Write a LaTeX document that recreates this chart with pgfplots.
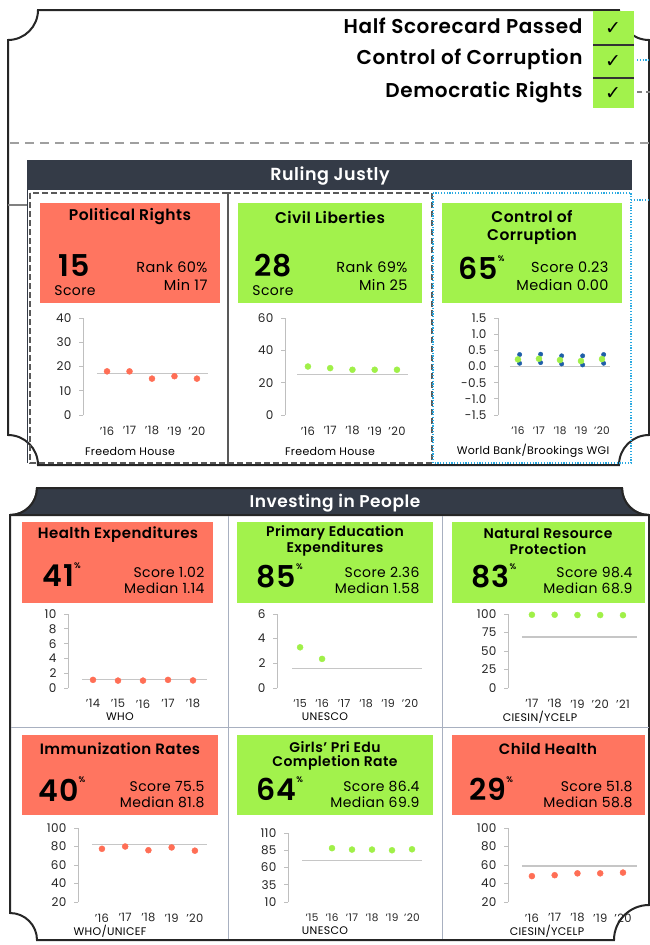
\documentclass[border=0pt]{standalone}
\usepackage{pgfplots}
\pgfplotsset{compat=1.18}
\usepackage{fontspec}
\setmainfont{Poppins}[BoldFont={Poppins SemiBold}, LetterSpace=3]
\newfontfamily\sym{DejaVu Sans}
\definecolor{redbox}{HTML}{FF7560}
\definecolor{greenbox}{HTML}{A2F24C}
\definecolor{reddot}{HTML}{FF6E55}
\definecolor{greendot}{HTML}{A0F048}
\definecolor{bluedot}{HTML}{1F5FA8}
\definecolor{navy}{HTML}{343B47}
\definecolor{cyanline}{HTML}{29A9E1}
\definecolor{sepline}{HTML}{A8B0C0}
\newcommand{\fs}[1]{\fontsize{#1}{#1}\selectfont}
\newcommand{\pct}[1]{#1\raisebox{1.1ex}{\fs{8}\%}}

\pgfplotsset{
  mini/.style={
    scale only axis, clip=false, anchor=south west,
    axis y line*=left, axis x line*=bottom,
    x axis line style={draw=none}, xtick style={draw=none},
    y axis line style={draw=gray!50, line width=0.9pt},
    ytick style={draw=gray!50, line width=0.9pt},
    tick align=outside, major tick length=4pt,
    /pgf/number format/assume math mode=true,
    yticklabel style={font=\fs{12}, text=black!85, xshift=-4pt},
    xticklabel style={font=\fs{11.5}, text=black!85, yshift=-4pt},
  },
  med/.style={gray!45, line width=1.3pt, forget plot},
  rdot/.style={only marks, mark=*, mark size=3pt, color=reddot},
  gdot/.style={only marks, mark=*, mark size=3pt, color=greendot},
  bdot/.style={only marks, mark=*, mark size=2.2pt, color=bluedot},
}

\begin{document}
\begin{tikzpicture}
\begin{scope}[x=1pt,y=-1pt]
\useasboundingbox (0,0) rectangle (650,945);
% ---- top card
\draw[line width=2pt, black!85, fill=white] (8,40) arc[start angle=90,end angle=0,radius=30]
  -- (619,10) arc[start angle=180,end angle=90,radius=30]
  -- (649,435) arc[start angle=270,end angle=180,radius=30]
  -- (38,465) arc[start angle=0,end angle=-90,radius=30] -- cycle;
\fill[greenbox] (593,11) rectangle (634,108);
\draw[line width=1.8pt, black!80] (593,45) -- (634,45) (593,78) -- (634,78);
\node[font=\sym\bfseries\fs{19}] at (613,29) {✓};
\node[font=\sym\bfseries\fs{19}] at (613,62) {✓};
\node[font=\sym\bfseries\fs{19}] at (613,94) {✓};
\node[anchor=east, font=\bfseries\fs{20}] at (586,26) {Half Scorecard Passed};
\node[anchor=east, font=\bfseries\fs{20}] at (586,59) {Control of Corruption};
\node[anchor=east, font=\bfseries\fs{20}] at (586,92) {Democratic Rights};
\draw[cyanline, line width=1.6pt, dash pattern=on 1.2pt off 1.6pt] (637,60) -- (650,60);
\draw[gray, line width=1.6pt, dash pattern=on 5pt off 4pt] (637,92) -- (650,92);
\draw[gray!75, line width=1.6pt, dash pattern=on 9pt off 6pt] (10,143) -- (650,143);
% ---- Ruling Justly
\fill[navy] (27,160) rectangle (632,190);
\node[white, font=\bfseries\fs{17.5}] at (330,176) {Ruling Justly};
\draw[navy, line width=1pt] (27,190) -- (27,463);
\draw[gray, line width=1.6pt] (8,205) -- (27,205);
\draw[black!65, line width=1.6pt, dash pattern=on 6pt off 3pt] (30,193) rectangle (228,463);
\draw[black!65, line width=1.6pt, dash pattern=on 6pt off 3pt] (228,193) rectangle (432,463);
\draw[cyanline, line width=1.6pt, dash pattern=on 1.2pt off 1.6pt] (433,193) rectangle (631,463);
\draw[cyanline, line width=1.6pt, dash pattern=on 1.2pt off 1.6pt] (631,200) -- (650,200);
\fill[redbox] (40,203) rectangle (220,303);
\fill[greenbox] (238,203) rectangle (422,303);
\fill[greenbox] (442,203) rectangle (622,303);
% panel 1
\node[font=\bfseries\fs{15.5}] at (130,217) {Political Rights};
\node[font=\bfseries\fs{30}] at (74,266) {15};
\node[font=\fs{14}] at (75,291) {Score};
\node[font=\fs{14.5}, anchor=east] at (211,267) {Rank 60\%};
\node[font=\fs{14.5}, anchor=east] at (211,285) {Min 17};
% panel 2
\node[font=\bfseries\fs{15.5}] at (330,217) {Civil Liberties};
\node[font=\bfseries\fs{30}] at (273,266) {28};
\node[font=\fs{14}] at (273,291) {Score};
\node[font=\fs{14.5}, anchor=east] at (411,267) {Rank 69\%};
\node[font=\fs{14.5}, anchor=east] at (411,285) {Min 25};
% panel 3
\node[font=\bfseries\fs{15.5}] at (532,217) {Control of};
\node[font=\bfseries\fs{15.5}] at (532,236) {Corruption};
\node[font=\bfseries\fs{30}, anchor=west] at (455,268) {\pct{65}};
\node[font=\fs{14.5}, anchor=east] at (612,267) {Score 0.23};
\node[font=\fs{14.5}, anchor=east] at (612,285) {Median 0.00};
% sources
\node[font=\fs{11}] at (130,451) {Freedom House};
\node[font=\fs{11}] at (330,451) {Freedom House};
\node[font=\fs{11}] at (533,451) {World Bank/Brookings WGI};
% ---- Investing in People card
\draw[line width=2pt, black!85, fill=white] (10,515) arc[start angle=90,end angle=0,radius=27]
  -- (622,488) arc[start angle=180,end angle=90,radius=27]
  -- (649,905) arc[start angle=270,end angle=180,radius=35]
  -- (37,940) arc[start angle=0,end angle=-90,radius=27] -- cycle;
\fill[navy, draw=black!85, line width=2pt] (10,515) arc[start angle=90,end angle=0,radius=27]
  -- (622,488) arc[start angle=180,end angle=90,radius=27] -- cycle;
\node[white, font=\bfseries\fs{17}] at (335,503) {Investing in People};
\draw[sepline, line width=1pt] (228,516) -- (228,939) (442,516) -- (442,939) (11,727) -- (649,727);
\fill[redbox] (22,522) rectangle (213,603);
\fill[greenbox] (237,522) rectangle (433,603);
\fill[greenbox] (452,522) rectangle (645,603);
\fill[redbox] (22,735) rectangle (218,815);
\fill[greenbox] (237,735) rectangle (433,815);
\fill[redbox] (452,735) rectangle (645,815);
% row 1 texts
\node[font=\bfseries\fs{15}] at (118,535) {Health Expenditures};
\node[font=\bfseries\fs{30}, anchor=west] at (39,575) {\pct{41}};
\node[font=\fs{14}, anchor=east] at (208,572) {Score 1.02};
\node[font=\fs{14}, anchor=east] at (208,588) {Median 1.14};
\node[font=\bfseries\fs{14}] at (335,533) {Primary Education};
\node[font=\bfseries\fs{14}] at (335,549) {Expenditures};
\node[font=\bfseries\fs{30}, anchor=west] at (253,576) {\pct{85}};
\node[font=\fs{14}, anchor=east] at (423,572) {Score 2.36};
\node[font=\fs{14}, anchor=east] at (423,588) {Median 1.58};
\node[font=\bfseries\fs{14}] at (548,533) {Natural Resource};
\node[font=\bfseries\fs{14}] at (548,549) {Protection};
\node[font=\bfseries\fs{30}, anchor=west] at (468,576) {\pct{83}};
\node[font=\fs{14}, anchor=east] at (636,572) {Score 98.4};
\node[font=\fs{14}, anchor=east] at (636,588) {Median 68.9};
% row 2 texts
\node[font=\bfseries\fs{15}] at (120,749) {Immunization Rates};
\node[font=\bfseries\fs{30}, anchor=west] at (35,789) {\pct{40}};
\node[font=\fs{14}, anchor=east] at (208,786) {Score 75.5};
\node[font=\fs{14}, anchor=east] at (208,802) {Median 81.8};
\node[font=\bfseries\fs{14}] at (335,747) {Girls’ Pri Edu};
\node[font=\bfseries\fs{14}] at (335,763) {Completion Rate};
\node[font=\bfseries\fs{30}, anchor=west] at (253,789) {\pct{64}};
\node[font=\fs{14}, anchor=east] at (423,786) {Score 86.4};
\node[font=\fs{14}, anchor=east] at (423,802) {Median 69.9};
\node[font=\bfseries\fs{15}] at (548,749) {Child Health};
\node[font=\bfseries\fs{30}, anchor=west] at (466,789) {\pct{29}};
\node[font=\fs{14}, anchor=east] at (636,786) {Score 51.8};
\node[font=\fs{14}, anchor=east] at (636,802) {Median 58.8};
% sources
\node[font=\fs{11}] at (120,717) {WHO};
\node[font=\fs{11}] at (325,717) {UNESCO};
\node[font=\fs{11}] at (540,717) {CIESIN/YCELP};
\node[font=\fs{11}] at (110,931) {WHO/UNICEF};
\node[font=\fs{11}] at (325,931) {UNESCO};
\node[font=\fs{11}] at (547,931) {CIESIN/YCELP};
\end{scope}

% ---- Political Rights
\begin{axis}[mini, at={(83pt,-415pt)}, width=129pt, height=97pt,
  xmin=-1.07, xmax=4.67, ymin=0, ymax=40, ytick={0,10,20,30,40},
  xtick={0,...,4}, xticklabels={{'16},{'17},{'18},{'19},{'20}}]
\addplot[med] coordinates {(-0.45,17) (4.5,17)};
\addplot[rdot] coordinates {(0,18) (1,18) (2,15) (3,16) (4,15)};
\end{axis}
% ---- Civil Liberties
\begin{axis}[mini, at={(285pt,-415pt)}, width=130pt, height=97pt,
  xmin=-1.03, xmax=4.81, ymin=0, ymax=60, ytick={0,20,40,60},
  xtick={0,...,4}, xticklabels={{'16},{'17},{'18},{'19},{'20}}]
\addplot[med] coordinates {(-0.49,25) (4.49,25)};
\addplot[gdot] coordinates {(0,30) (1,29) (2,28) (3,28) (4,28)};
\end{axis}
% ---- Control of Corruption
\begin{axis}[mini, at={(498pt,-415pt)}, width=117pt, height=97pt,
  xmin=-0.95, xmax=4.62, ymin=-1.5, ymax=1.5,
  ytick={-1.5,-1,-0.5,0,0.5,1,1.5},
  yticklabels={-1.5,-1.0,-0.5,0.0,0.5,1.0,1.5},
  xticklabel style={font=\fs{10.5}},
  xtick={0,...,4}, xticklabels={{'16},{'17},{'18},{'19},{'20}}]
\addplot[med] coordinates {(-0.38,0) (4.38,0)};
\addplot[bdot] coordinates {(0.08,0.37) (1.08,0.38) (2.08,0.33) (3.08,0.33) (4.08,0.37)};
\addplot[bdot] coordinates {(0.08,0.10) (1.08,0.12) (2.08,0.08) (3.08,0.05) (4.08,0.10)};
\addplot[gdot] coordinates {(0,0.22) (1,0.24) (2,0.20) (3,0.17) (4,0.23)};
\end{axis}
% ---- Health Expenditures
\begin{axis}[mini, at={(68pt,-688pt)}, width=140pt, height=74pt,
  xmin=-1.0, xmax=4.6, ymin=0, ymax=10, ytick={0,2,4,6,8,10},
  xtick={0,...,4}, xticklabels={{'14},{'15},{'16},{'17},{'18}}]
\addplot[med] coordinates {(-0.44,1.14) (4.56,1.14)};
\addplot[rdot] coordinates {(0,1.1) (1,1.0) (2,1.0) (3,1.1) (4,1.02)};
\end{axis}
% ---- Primary Education Expenditures
\begin{axis}[mini, at={(277pt,-688pt)}, width=148pt, height=74pt,
  xmin=-1.05, xmax=5.68, ymin=0, ymax=6, ytick={0,2,4,6},
  xticklabel style={font=\fs{11}},
  xtick={0,...,5}, xticklabels={{'15},{'16},{'17},{'18},{'19},{'20}}]
\addplot[med] coordinates {(-0.36,1.58) (5.55,1.58)};
\addplot[gdot] coordinates {(0,3.3) (1,2.36)};
\end{axis}
% ---- Natural Resource Protection
\begin{axis}[mini, at={(508pt,-688pt)}, width=130pt, height=74pt,
  xmin=-1.05, xmax=4.66, ymin=0, ymax=100, ytick={0,25,50,75,100},
  xtick={0,...,4}, xticklabels={{'17},{'18},{'19},{'20},{'21}}]
\addplot[med] coordinates {(-0.44,68.9) (4.6,68.9)};
\addplot[gdot] coordinates {(0,99) (1,99) (2,98.6) (3,98.6) (4,98.4)};
\end{axis}
% ---- Immunization Rates
\begin{axis}[mini, at={(78pt,-902pt)}, width=132pt, height=74pt,
  xmin=-1.03, xmax=4.65, ymin=20, ymax=100, ytick={20,40,60,80,100},
  xtick={0,...,4}, xticklabels={{'16},{'17},{'18},{'19},{'20}}]
\addplot[med] coordinates {(-0.43,81.8) (4.5,81.8)};
\addplot[rdot] coordinates {(0,77.5) (1,80) (2,76) (3,79) (4,75.5)};
\end{axis}
% ---- Girls' Primary Completion
\begin{axis}[mini, at={(288pt,-902pt)}, width=137pt, height=69pt,
  xmin=-1.2, xmax=5.65, ymin=10, ymax=110, ytick={10,35,60,85,110},
  xticklabel style={font=\fs{10.5}},
  xtick={0,...,5}, xticklabels={{'15},{'16},{'17},{'18},{'19},{'20}}]
\addplot[med] coordinates {(-0.5,69.9) (5.5,69.9)};
\addplot[gdot] coordinates {(1,88) (2,86) (3,86) (4,85) (5,86.4)};
\end{axis}
% ---- Child Health
\begin{axis}[mini, at={(508pt,-902pt)}, width=130pt, height=74pt,
  xmin=-1.05, xmax=4.66, ymin=20, ymax=100, ytick={20,40,60,80,100},
  xtick={0,...,4}, xticklabels={{'16},{'17},{'18},{'19},{'20}}]
\addplot[med] coordinates {(-0.44,58.8) (4.6,58.8)};
\addplot[rdot] coordinates {(0,48) (1,49) (2,51) (3,51) (4,51.8)};
\end{axis}
\end{tikzpicture}
\end{document}
